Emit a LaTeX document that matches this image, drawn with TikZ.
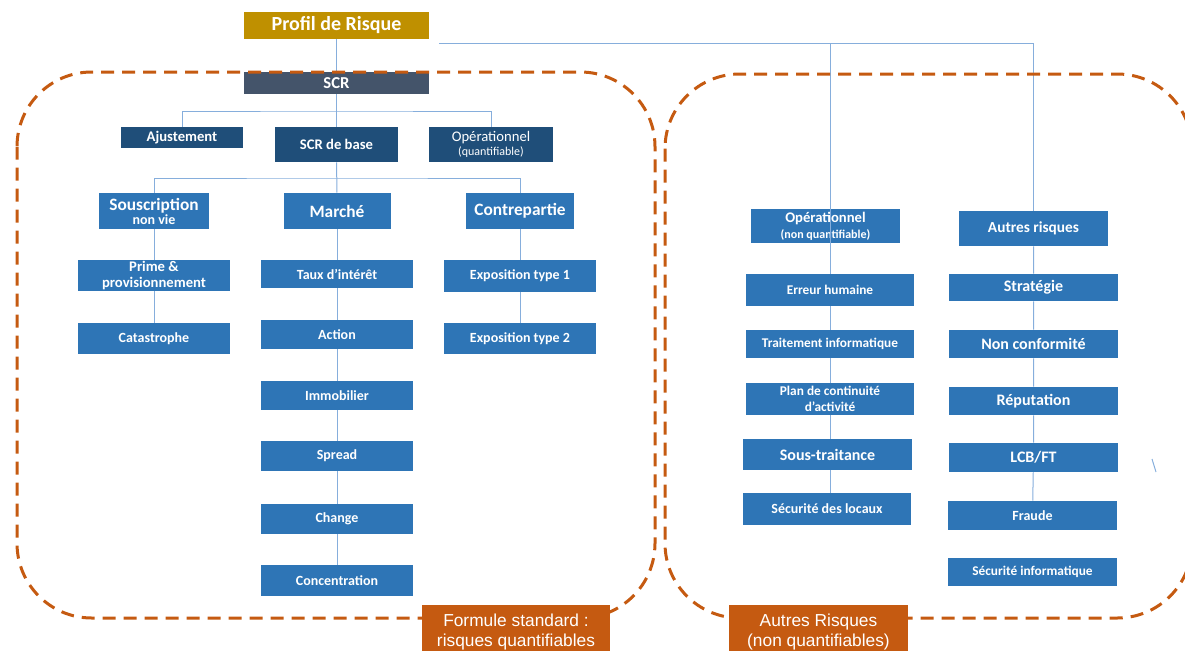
\documentclass[tikz,border=0pt]{standalone}
\usepackage{fontspec}
\setmainfont{Carlito}
\newfontfamily\arialfont{Liberation Sans}
\usepackage{xcolor}
\usepackage{tikz}

\definecolor{gold}{HTML}{BF9000}
\definecolor{slate}{HTML}{44546A}
\definecolor{navy}{HTML}{1F4E79}
\definecolor{midblue}{HTML}{2E75B6}
\definecolor{rust}{HTML}{C55A11}
\definecolor{linkblue}{HTML}{86AEDC}

\lineskiplimit=-20pt

\tikzset{
  box/.style 2 args={rectangle, inner sep=0pt, text=white, align=center,
    minimum width=#1*0.75pt, minimum height=#2*0.75pt},
  link/.style={draw=linkblue, line width=0.75pt},
  zone/.style={draw=rust, line width=2.25pt, dash pattern=on 9.75pt off 6pt,
    rounded corners=56pt},
  bf/.style={font=\bfseries\fontsize{#1}{#1}\selectfont},
}

\begin{document}
\begin{tikzpicture}[x=0.75pt, y=-0.75pt]
  \clip (0,0) rectangle (1185,650);

  % sommet
  \node[box={185}{27}, fill=gold, bf=15] (Profil) at (336.5,25.5) {Profil de Risque};
  \node[box={185}{22}, fill=slate, bf=12.5] (SCR) at (336.5,83) {SCR};

  \node[box={122}{21}, fill=navy, bf=11] (Ajust) at (182,137.5) {Ajustement};
  \node[box={123}{35}, fill=navy, bf=11] (SCRbase) at (336.5,144.5) {SCR de base};
  \node[box={124}{35}, fill=navy, font=\fontsize{11}{11}\selectfont] (OpQ) at (491,144.5)
    {Opérationnel\\{\fontsize{9}{11}\selectfont (quantifiable)}};

  % modules
  \node[box={110}{36}, fill=midblue, font=\bfseries\fontsize{13}{10.5}\selectfont] (Sousc) at (154,211)
    {Souscription\\{\fontsize{10.5}{10.5}\selectfont non vie}};
  \node[box={107}{36}, fill=midblue, bf=13] (Marche) at (337,211) {Marché};
  \node[box={108}{36}, fill=midblue, bf=13] (Contre) at (520,211) {Contrepartie};

  \node[box={152}{31}, fill=midblue, font=\bfseries\fontsize{11}{12}\selectfont] (Prime) at (154,275.5)
    {Prime \&\\provisionnement};
  \node[box={152}{31}, fill=midblue, bf=10.5] (Cata) at (154,338.5) {Catastrophe};

  \node[box={152}{28}, fill=midblue, bf=10.5] (Taux) at (337,274) {Taux d’intérêt};
  \node[box={152}{29}, fill=midblue, bf=10.5] (Action) at (337,334.5) {Action};
  \node[box={152}{29}, fill=midblue, bf=10.5] (Immo) at (337,395.5) {Immobilier};
  \node[box={152}{30}, fill=midblue, bf=10.5] (Spread) at (337,456) {Spread};
  \node[box={152}{30}, fill=midblue, bf=10.5] (Change) at (337,519) {Change};
  \node[box={152}{31}, fill=midblue, bf=10.5] (Conc) at (337,580.5) {Concentration};

  \node[box={152}{32}, fill=midblue, bf=10.5] (Expo1) at (520,276) {Exposition type 1};
  \node[box={152}{31}, fill=midblue, bf=10.5] (Expo2) at (520,338.5) {Exposition type 2};

  % autres risques
  \node[box={149}{34}, fill=midblue, font=\bfseries\fontsize{11}{12}\selectfont] (OpNQ) at (825.5,226)
    {Opérationnel\\{\fontsize{9}{12}\selectfont (non quantifiable)}};
  \node[box={149}{35}, fill=midblue, bf=11.5] (Autres) at (1033.5,228.5) {Autres risques};

  \node[box={168}{32}, fill=midblue, bf=10] (Erreur) at (830,290) {Erreur humaine};
  \node[box={168}{28}, fill=midblue, bf=10] (Trait) at (830,344) {Traitement informatique};
  \node[box={168}{32}, fill=midblue, font=\bfseries\fontsize{10}{12}\selectfont] (Plan) at (830,399)
    {Plan de continuité\\d’activité};
  \node[box={169}{31}, fill=midblue, bf=12] (SousTr) at (827.5,454.5) {Sous-traitance};
  \node[box={168}{32}, fill=midblue, bf=10.5] (SecLoc) at (827,509) {Sécurité des locaux};

  \node[box={169}{27}, fill=midblue, bf=12] (Strat) at (1033.5,287.5) {Stratégie};
  \node[box={169}{28}, fill=midblue, bf=12] (NonConf) at (1033.5,344) {Non conformité};
  \node[box={169}{28}, fill=midblue, bf=12] (Reput) at (1033.5,401) {Réputation};
  \node[box={169}{29}, fill=midblue, bf=12] (LCB) at (1033.5,457.5) {LCB/FT};
  \node[box={169}{29}, fill=midblue, bf=10.5] (Fraude) at (1032.5,515.5) {Fraude};
  \node[box={169}{28}, fill=midblue, bf=10] (SecInf) at (1032.5,572) {Sécurité informatique};

  % liens
  \coordinate (J1) at (336.5,111);
  \coordinate (J2) at (337,178);
  \coordinate (T0) at (439,43);
  \coordinate (T1) at (830,43);
  \coordinate (T2) at (1033.5,43);

  \draw[link] (Profil) -- (SCR);
  \draw[link] (SCR) -- (SCRbase);
  \draw[link] (Ajust) |- (J1) -| (OpQ);
  \draw[link] (SCRbase) -- (Marche);
  \draw[link] (Sousc) |- (J2) -| (Contre);
  \draw[link] (Sousc) -- (Prime) -- (Cata);
  \draw[link] (Marche) -- (Taux) -- (Action) -- (Immo) -- (Spread) -- (Change) -- (Conc);
  \draw[link] (Contre) -- (Expo1) -- (Expo2);

  \draw[link] (T0) -- (T2) -- (Autres);
  \draw[link] (T1) -- (Erreur) -- (Trait) -- (Plan);
  \draw[link] (Plan.south) -- (Plan.south |- SousTr.north);
  \draw[link] (Plan.south |- SousTr.south) -- (Plan.south |- SecLoc.north);
  \draw[link] (Autres) -- (Strat) -- (NonConf) -- (Reput) -- (LCB) -- (Fraude);
  \draw[link] (1152,459) -- (1156,472);

  % zones
  \draw[zone] (17,72) rectangle (655,618);
  \draw[zone] (665,74) rectangle (1192,618);

  \node[box={188}{54}, fill=rust, font=\arialfont\fontsize{13}{15}\selectfont] (Formule) at (516,632)
    {Formule standard :\\risques quantifiables};
  \node[box={179}{54}, fill=rust, font=\arialfont\fontsize{13}{15}\selectfont] (AutresR) at (818.5,632)
    {Autres Risques\\(non quantifiables)};
\end{tikzpicture}
\end{document}
